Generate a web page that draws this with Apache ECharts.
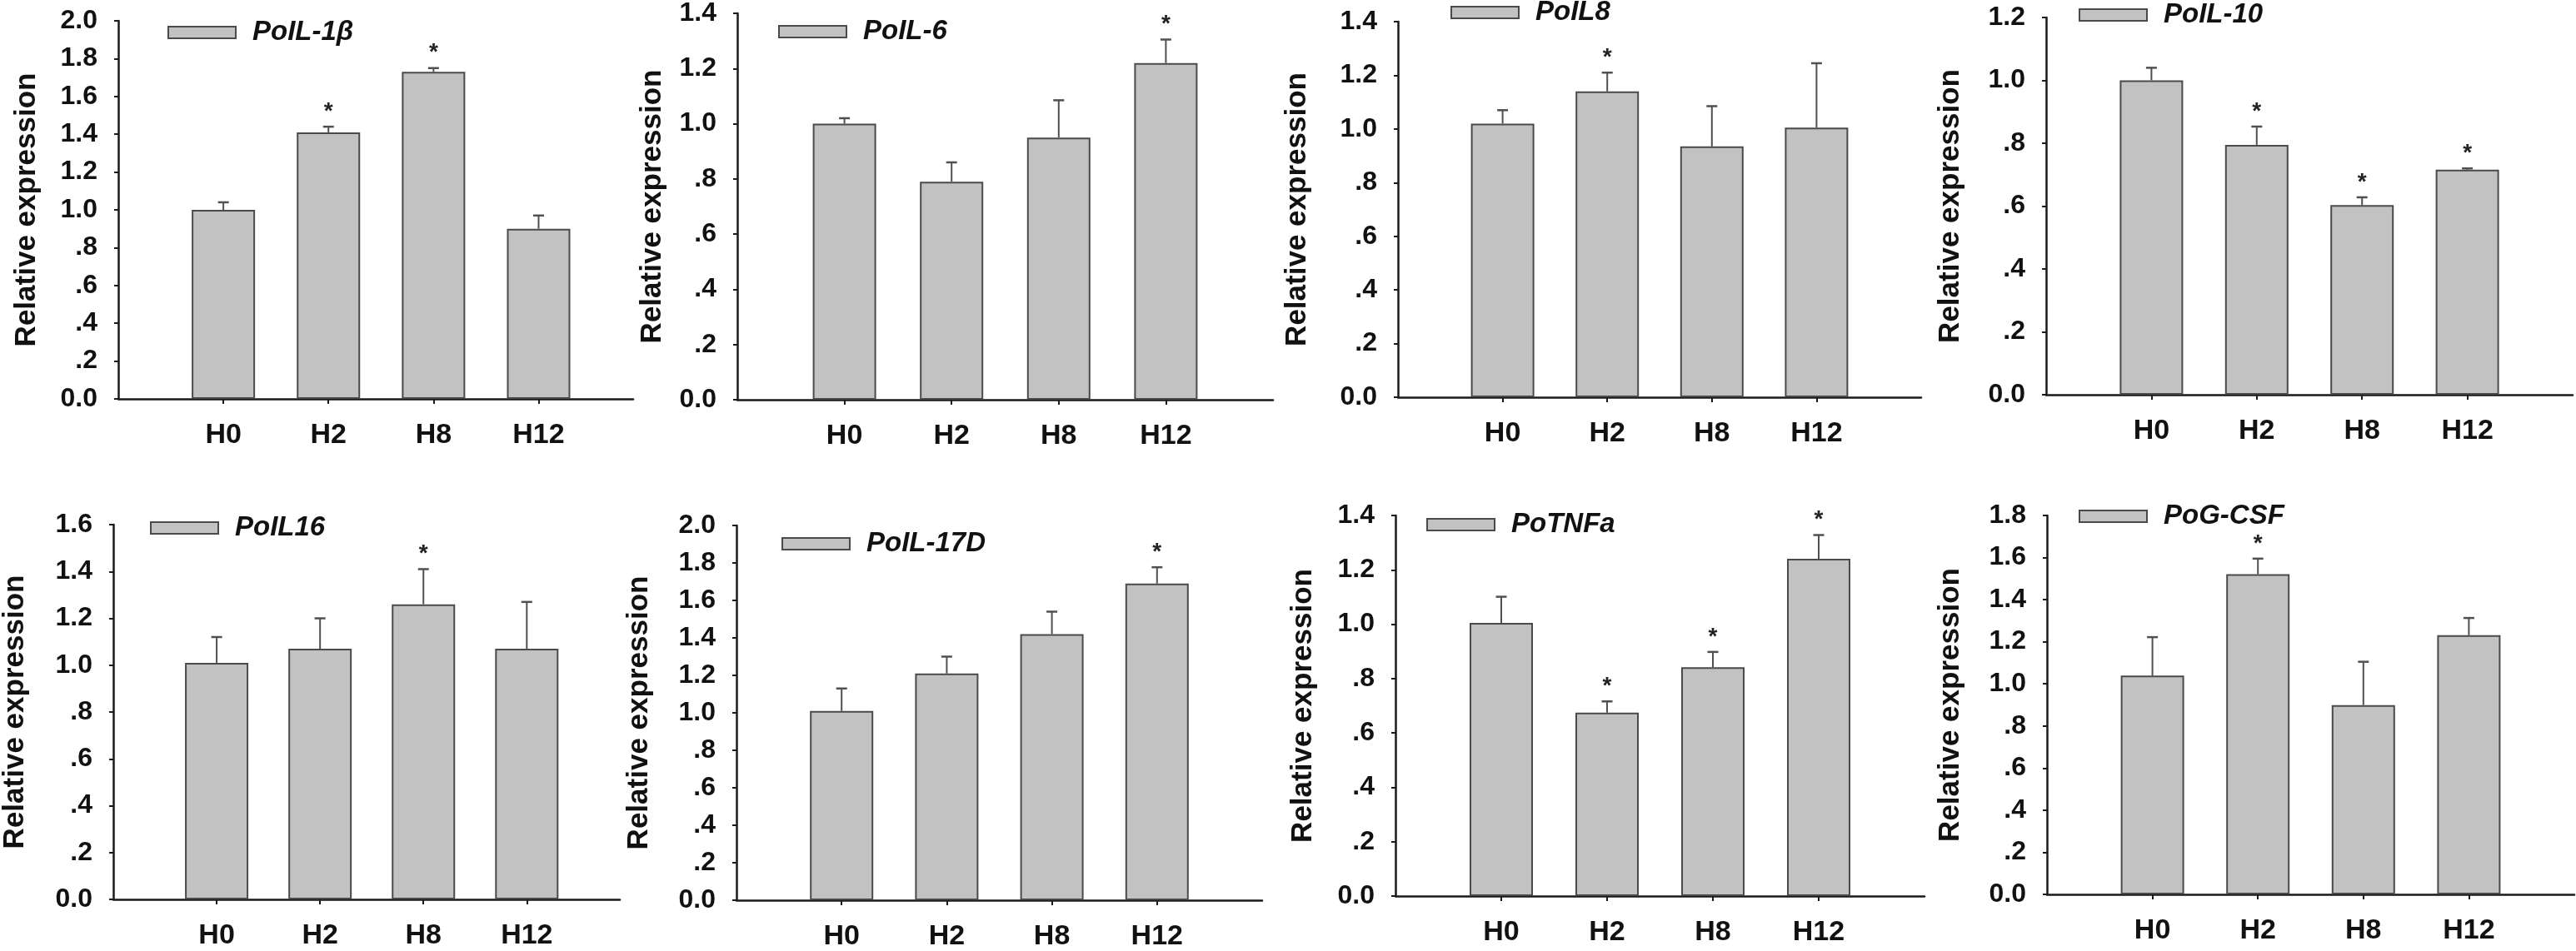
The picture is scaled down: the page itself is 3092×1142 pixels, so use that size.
<!DOCTYPE html>
<html>
<head>
<meta charset="utf-8">
<script src="https://cdn.jsdelivr.net/npm/echarts@6/dist/echarts.min.js"></script>
<style>
html,body{margin:0;padding:0;background:#fff;}
#chart{width:3092px;height:1142px;}
</style>
</head>
<body>
<div id="chart"></div>
<script>
// ---------- data ----------
const categories = ['H0', 'H2', 'H8', 'H12'];
const geneNames = ['PoIL-1β', 'PoIL-6', 'PoIL8', 'PoIL-10', 'PoIL16', 'PoIL-17D', 'PoTNFa', 'PoG-CSF'];
const yMaxValues = [2.0, 1.4, 1.4, 1.2, 1.6, 2.0, 1.4, 1.8];

const meanIL1b  = [1.00, 1.41, 1.73, 0.90];
const errIL1b   = [0.04, 0.03, 0.02, 0.07];
const sigIL1b   = [0, 1, 1, 0];

const meanIL6   = [1.00, 0.79, 0.95, 1.22];
const errIL6    = [0.02, 0.07, 0.135, 0.085];
const sigIL6    = [0, 0, 0, 1];

const meanIL8   = [1.02, 1.14, 0.935, 1.005];
const errIL8    = [0.05, 0.07, 0.15, 0.24];
const sigIL8    = [0, 1, 0, 0];

const meanIL10  = [1.00, 0.795, 0.603, 0.716];
const errIL10   = [0.04, 0.058, 0.025, 0.004];
const sigIL10   = [0, 1, 1, 1];

const meanIL16  = [1.01, 1.07, 1.26, 1.07];
const errIL16   = [0.11, 0.13, 0.15, 0.20];
const sigIL16   = [0, 0, 1, 0];

const meanIL17D = [1.01, 1.21, 1.42, 1.69];
const errIL17D  = [0.12, 0.09, 0.12, 0.087];
const sigIL17D  = [0, 0, 0, 1];

const meanTNFa  = [1.005, 0.675, 0.842, 1.241];
const errTNFa   = [0.096, 0.041, 0.056, 0.087];
const sigTNFa   = [0, 1, 1, 1];

const meanGCSF  = [1.039, 1.521, 0.899, 1.231];
const errGCSF   = [0.183, 0.074, 0.206, 0.082];
const sigGCSF   = [0, 1, 0, 0];

const allMeans = [meanIL1b, meanIL6, meanIL8, meanIL10, meanIL16, meanIL17D, meanTNFa, meanGCSF];
const allErrs  = [errIL1b, errIL6, errIL8, errIL10, errIL16, errIL17D, errTNFa, errGCSF];
const allSigs  = [sigIL1b, sigIL6, sigIL8, sigIL10, sigIL16, sigIL17D, sigTNFa, sigGCSF];

// ---------- layout (pixels) ----------
const layout = [
  {left: 142,  top: 25,  zero: 479,  width: 618, xMax: 4.9, legX: 201,  legY: 39,  nameGap: 92},
  {left: 885,  top: 16,  zero: 480,  width: 643, xMax: 5.0, legX: 934,  legY: 38,  nameGap: 84},
  {left: 1678, top: 26,  zero: 477,  width: 628, xMax: 5.0, legX: 1741, legY: 15,  nameGap: 103},
  {left: 2456, top: 21,  zero: 474,  width: 632, xMax: 5.0, legX: 2495, legY: 18,  nameGap: 97},
  {left: 130,  top: 630, zero: 1080, width: 614, xMax: 4.9, legX: 180,  legY: 634, nameGap: 100},
  {left: 884,  top: 631, zero: 1083, width: 631, xMax: 5.0, legX: 938,  legY: 653, nameGap: 99},
  {left: 1675, top: 619, zero: 1076, width: 635, xMax: 5.0, legX: 1712, legY: 630, nameGap: 93},
  {left: 2457, top: 619, zero: 1074, width: 633, xMax: 5.0, legX: 2495, legY: 620, nameGap: 98}
];

const FONT = "'Liberation Sans', Arial, Helvetica, sans-serif";
const AXIS_COLOR = '#1a1a1a';
const BAR_FILL = '#c2c2c2';
const BAR_EDGE = '#4a4a4a';

const chart = echarts.init(document.getElementById('chart'), null, {renderer: 'canvas'});

const grids = [], xAxes = [], yAxes = [], series = [], legends = [];

function yLabel(v) {
  if (Math.abs(v) < 1e-9) return '0.0';
  if (v < 0.999) return '.' + Math.round(v * 10);
  return v.toFixed(1);
}

layout.forEach((L, i) => {
  grids.push({
    left: L.left, top: L.top, width: L.width, height: L.zero - L.top,
    containLabel: false
  });
  xAxes.push({
    gridIndex: i, type: 'value', min: 0, max: L.xMax,
    axisLine: {show: true, onZero: false, lineStyle: {color: AXIS_COLOR, width: 2.5}},
    axisTick: {show: true, customValues: [1, 2, 3, 4], length: 6, lineStyle: {color: AXIS_COLOR, width: 2}},
    axisLabel: {
      show: true, customValues: [1, 2, 3, 4],
      formatter: v => categories[Math.round(v) - 1] || '',
      fontSize: 34, fontWeight: 'bold', color: '#111', fontFamily: FONT, margin: 27
    },
    splitLine: {show: false}
  });
  yAxes.push({
    gridIndex: i, type: 'value', min: 0, max: yMaxValues[i], interval: 0.2,
    name: 'Relative expression', nameLocation: 'middle', nameGap: L.nameGap,
    nameTextStyle: {fontSize: 35, fontWeight: 'bold', color: '#111', fontFamily: FONT},
    axisLine: {show: true, lineStyle: {color: AXIS_COLOR, width: 2.5}},
    axisTick: {show: true, length: 5, lineStyle: {color: AXIS_COLOR, width: 2}},
    axisLabel: {
      formatter: yLabel, fontSize: 32, fontWeight: 'bold', color: '#111',
      fontFamily: FONT, margin: 25
    },
    splitLine: {show: false}
  });

  const means = allMeans[i], errs = allErrs[i], sigs = allSigs[i];
  const barData = means.map((m, k) => [k + 1, m]);
  const errData = means.map((m, k) => [k + 1, m, errs[k]]);
  const sigData = [];
  means.forEach((m, k) => { if (sigs[k]) sigData.push([k + 1, m + errs[k]]); });

  series.push({
    name: geneNames[i], type: 'bar', xAxisIndex: i, yAxisIndex: i,
    data: barData, barWidth: 76,
    itemStyle: {color: BAR_FILL, borderColor: BAR_EDGE, borderWidth: 2},
    emphasis: {disabled: true}, z: 2
  });
  series.push({
    name: geneNames[i] + ' SE', type: 'custom', xAxisIndex: i, yAxisIndex: i,
    data: errData, encode: {x: 0, y: 1}, z: 3, clip: false,
    renderItem: function (params, api) {
      const x = api.value(0), v = api.value(1), e = api.value(2);
      const p0 = api.coord([x, v]);
      const p1 = api.coord([x, v + e]);
      return {
        type: 'group',
        children: [
          {type: 'line', shape: {x1: p0[0], y1: p0[1], x2: p1[0], y2: p1[1]},
           style: {stroke: '#505050', lineWidth: 2}},
          {type: 'line', shape: {x1: p1[0] - 6.5, y1: p1[1], x2: p1[0] + 6.5, y2: p1[1]},
           style: {stroke: '#505050', lineWidth: 2.5}}
        ]
      };
    }
  });
  series.push({
    name: geneNames[i] + ' sig', type: 'custom', xAxisIndex: i, yAxisIndex: i,
    data: sigData, encode: {x: 0, y: 1}, z: 4, clip: false,
    renderItem: function (params, api) {
      const p = api.coord([api.value(0), api.value(1)]);
      return {
        type: 'text',
        style: {
          text: '*', x: p[0], y: p[1] - 18, align: 'center', verticalAlign: 'middle',
          fontSize: 28, fontWeight: 'bold', fontFamily: FONT, fill: '#222'
        }
      };
    }
  });

  legends.push({
    data: [geneNames[i]], left: L.legX, top: L.legY - 18, padding: 0,
    orient: 'horizontal', selectedMode: false,
    icon: 'rect', itemWidth: 81, itemHeight: 14,
    itemStyle: {color: BAR_FILL, borderColor: BAR_EDGE, borderWidth: 2},
    textStyle: {fontSize: 33, fontWeight: 'bold', fontStyle: 'italic', color: '#111',
                fontFamily: FONT, lineHeight: 36, padding: [0, 0, 0, 15]}
  });
});

chart.setOption({
  animation: false,
  backgroundColor: '#ffffff',
  grid: grids, xAxis: xAxes, yAxis: yAxes, series: series, legend: legends,
  tooltip: {show: false}
});
</script>
</body>
</html>
